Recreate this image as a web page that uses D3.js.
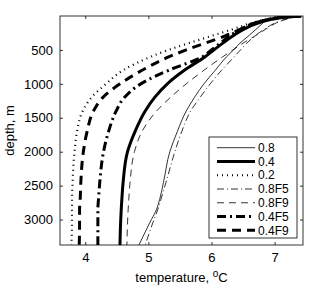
<!DOCTYPE html>
<html>
<head>
<meta charset="utf-8">
<script src="https://cdn.jsdelivr.net/npm/d3@7"></script>
<style>
body { margin: 0; background: #fff; }
text { font-family: "Liberation Sans", Arial, sans-serif; fill: #000; }
.axis path { display: none; }
.axis line { stroke: #000; stroke-width: 0.8; }
</style>
</head>
<body>
<svg width="313" height="289"></svg>
<script>
// depth levels (m) shared by every profile
var depths = [0, 20, 50, 100, 200, 300, 400, 500, 600, 800, 1000, 1200, 1400, 1700, 2000, 2450, 2700, 2850, 3050, 3375];

// temperature profiles, deg C
var t08   = [7.42, 7.0, 6.88, 6.82, 6.7, 6.58, 6.45, 6.35, 6.24, 6.06, 5.88, 5.73, 5.6, 5.46, 5.34, 5.24, 5.18, 5.13, 5.02, 4.85];
var t04   = [7.42, 7.15, 6.95, 6.75, 6.5, 6.33, 6.18, 6.04, 5.9, 5.57, 5.3, 5.1, 4.95, 4.79, 4.67, 4.6, 4.58, 4.57, 4.56, 4.55];
var t02   = [7.42, 7.1, 6.88, 6.65, 6.32, 5.98, 5.64, 5.32, 5.04, 4.6, 4.33, 4.1, 3.96, 3.87, 3.83, 3.8, 3.79, 3.79, 3.79, 3.78];
var t08F5 = [7.42, 7.3, 7.18, 7.02, 6.83, 6.68, 6.56, 6.46, 6.36, 6.16, 5.98, 5.82, 5.67, 5.53, 5.42, 5.28, 5.2, 5.15, 5.07, 4.95];
var t08F9 = [7.42, 7.28, 7.15, 7.03, 6.85, 6.68, 6.5, 6.34, 6.18, 5.88, 5.6, 5.35, 5.13, 4.9, 4.78, 4.71, 4.69, 4.68, 4.67, 4.66];
var t04F5 = [7.42, 7.12, 6.9, 6.7, 6.45, 6.28, 6.14, 6.0, 5.86, 5.32, 4.88, 4.62, 4.49, 4.37, 4.29, 4.23, 4.21, 4.2, 4.2, 4.2];
var t04F9 = [7.42, 7.12, 6.9, 6.7, 6.45, 6.2, 5.9, 5.6, 5.33, 4.9, 4.55, 4.28, 4.13, 4.03, 3.97, 3.93, 3.92, 3.91, 3.91, 3.905];

var names = ["0.8", "0.4", "0.2", "0.8F5", "0.8F9", "0.4F5", "0.4F9"];
var xTicks = [4, 5, 6, 7];
var yTicks = [500, 1000, 1500, 2000, 2500, 3000];

var series = [t08, t04, t02, t08F5, t08F9, t04F5, t04F9];
var styles = [
    { w: 0.8, dash: null },
    { w: 3, dash: null },
    { w: 2.2, dash: "1,4" },
    { w: 0.8, dash: "7,3,1,3" },
    { w: 0.8, dash: "7,5" },
    { w: 3, dash: "9,4,2,4" },
    { w: 3, dash: "9,6" }
];

var svg = d3.select("svg"),
    margin = { top: 16, right: 10, bottom: 44, left: 60 },
    width = +svg.attr("width") - margin.left - margin.right,
    height = +svg.attr("height") - margin.top - margin.bottom;

var x = d3.scaleLinear().domain([3.6, 7.45]).range([0, width]);
var y = d3.scaleLinear().domain([0, 3375]).range([0, height]);

var g = svg.append("g")
    .attr("transform", "translate(" + margin.left + "," + margin.top + ")");

g.append("clipPath").attr("id", "clip")
  .append("rect").attr("width", width).attr("height", height);

// axes, ticks pointing inwards like matlab
g.append("g")
    .attr("class", "axis")
    .attr("transform", "translate(0," + height + ")")
    .call(d3.axisBottom(x).tickValues(xTicks).tickFormat(d3.format("d")).tickSize(-3).tickPadding(8))
    .selectAll("text").style("font-size", "13px");

g.append("g")
    .attr("class", "axis")
    .call(d3.axisTop(x).tickValues(xTicks).tickSize(-3).tickFormat(""));

g.append("g")
    .attr("class", "axis")
    .call(d3.axisLeft(y).tickValues(yTicks).tickFormat(d3.format("d")).tickSize(-3).tickPadding(7))
    .selectAll("text").style("font-size", "13px");

g.append("g")
    .attr("class", "axis")
    .attr("transform", "translate(" + width + ",0)")
    .call(d3.axisRight(y).tickValues(yTicks).tickSize(-3).tickFormat(""));

var line = d3.line()
    .x(d => x(d[0]))
    .y(d => y(d[1]))
    .curve(d3.curveMonotoneY);

g.append("g")
    .attr("clip-path", "url(#clip)")
  .selectAll(".profile")
    .data(series)
    .enter()
  .append("path")
    .attr("class", "profile")
    .attr("fill", "none")
    .attr("stroke", "#000")
    .attr("stroke-width", (d, i) => styles[i].w)
    .attr("stroke-dasharray", (d, i) => styles[i].dash)
    .attr("d", d => line(d.map((t, k) => [t, depths[k]])));

g.append("rect")
    .attr("width", width)
    .attr("height", height)
    .attr("fill", "none")
    .attr("stroke", "#000")
    .attr("stroke-width", 0.8);

// legend
var lg = svg.append("g").attr("transform", "translate(209,137)");
lg.append("rect")
    .attr("width", 88)
    .attr("height", 101)
    .attr("fill", "#fff")
    .attr("stroke", "#000")
    .attr("stroke-width", 0.8);

var row = lg.selectAll(".row")
    .data(names)
    .enter()
  .append("g")
    .attr("transform", (d, i) => "translate(0," + (10.7 + i * 13.77) + ")");

row.append("line")
    .attr("x1", 8).attr("x2", 46)
    .attr("stroke", "#000")
    .attr("stroke-width", (d, i) => styles[i].w)
    .attr("stroke-dasharray", (d, i) => styles[i].dash);

row.append("text")
    .attr("x", 49)
    .attr("dy", "0.35em")
    .style("font-size", "12px")
    .text(d => d);

// axis titles
svg.append("text")
    .attr("transform", "translate(14," + (margin.top + height / 2) + ") rotate(-90)")
    .attr("text-anchor", "middle")
    .style("font-size", "13px")
    .text("depth, m");

var xl = svg.append("text")
    .attr("x", margin.left + width / 2)
    .attr("y", 282)
    .attr("text-anchor", "middle")
    .style("font-size", "13px");
xl.append("tspan").text("temperature, ");
xl.append("tspan").attr("dy", -5).style("font-size", "10px").text("o");
xl.append("tspan").attr("dy", 5).text("C");
</script>
</body>
</html>
